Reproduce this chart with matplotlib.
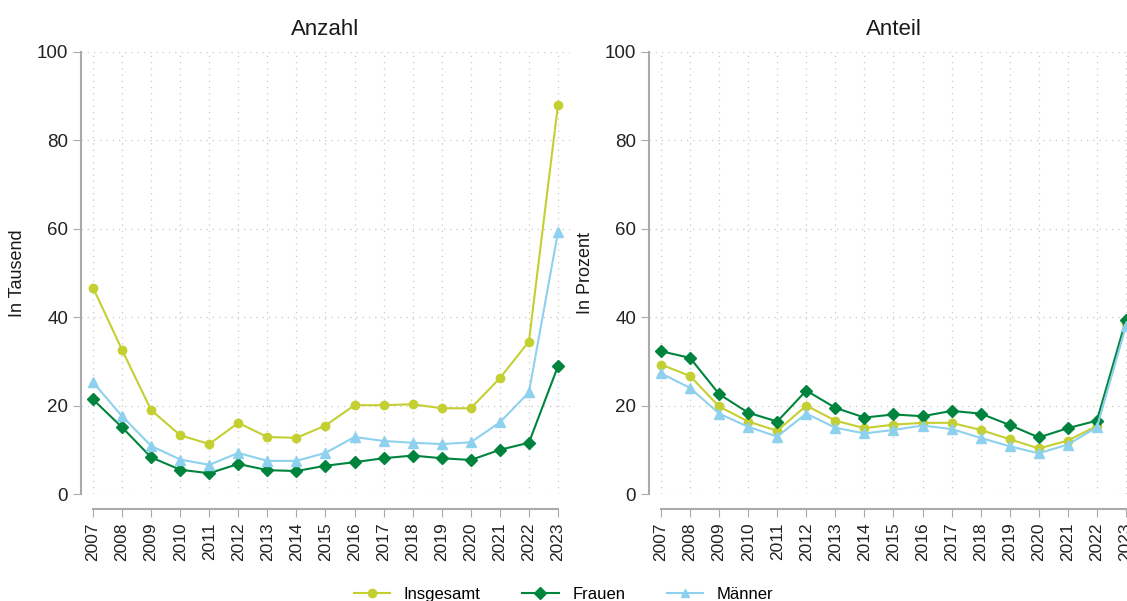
import matplotlib.pyplot as plt
from matplotlib.lines import Line2D

plt.rcParams['font.family'] = ['Liberation Sans', 'DejaVu Sans']

# === Data ===
years = list(range(2007, 2024))

anzahl_insgesamt = [46.7, 32.6, 19.0, 13.3, 11.3, 16.1, 12.9, 12.7, 15.5, 20.1,
                    20.1, 20.3, 19.4, 19.4, 26.2, 34.5, 88.0]
anzahl_frauen = [21.4, 15.1, 8.3, 5.5, 4.7, 6.8, 5.4, 5.2, 6.4, 7.2,
                 8.1, 8.7, 8.1, 7.7, 10.0, 11.6, 28.9]
anzahl_maenner = [25.3, 17.6, 10.9, 7.8, 6.6, 9.3, 7.5, 7.5, 9.3, 12.9,
                  12.0, 11.6, 11.3, 11.7, 16.2, 23.0, 59.2]

anteil_insgesamt = [29.3, 26.7, 19.8, 16.4, 14.3, 20.0, 16.6, 14.9, 15.7, 16.1,
                    16.1, 14.5, 12.4, 10.3, 12.1, 15.4, 38.6]
anteil_frauen = [32.3, 30.8, 22.6, 18.4, 16.4, 23.4, 19.5, 17.3, 18.0, 17.6,
                 18.8, 18.2, 15.6, 12.8, 14.9, 16.6, 39.4]
anteil_maenner = [27.3, 24.0, 18.2, 15.2, 13.0, 18.2, 15.0, 13.7, 14.5, 15.5,
                  14.7, 12.7, 10.8, 9.2, 11.2, 15.1, 38.0]

labels = ["Insgesamt", "Frauen", "Männer"]
colors = ["#C4CF32", "#00843D", "#8ED1EE"]
markers = ["o", "D", "^"]
msizes = [6, 6, 6.5]

panels = [
    ("Anzahl", "In Tausend", [anzahl_insgesamt, anzahl_frauen, anzahl_maenner]),
    ("Anteil", "In Prozent", [anteil_insgesamt, anteil_frauen, anteil_maenner]),
]

fig = plt.figure(figsize=(11.27, 6.01), dpi=100)
axes_pos = [[0.0722, 0.178, 0.4332, 0.7355], [0.5762, 0.178, 0.4332, 0.7355]]

for pos, (title, ylabel, series) in zip(axes_pos, panels):
    ax = fig.add_axes(pos)
    for vals, lab, col, mk, ms in zip(series, labels, colors, markers, msizes):
        ax.plot(years, vals, color=col, marker=mk, markersize=ms, linewidth=1.5,
                label=lab, clip_on=False, zorder=3)

    # spines first (set_position resets the tick labels)
    for s in ['top', 'right']:
        ax.spines[s].set_visible(False)
    ax.spines['bottom'].set_position(('outward', 11))
    ax.spines['left'].set_color('#aaaaaa')
    ax.spines['left'].set_linewidth(1.5)
    ax.spines['left'].set_bounds(0, 100)
    ax.spines['bottom'].set_color('#aaaaaa')
    ax.spines['bottom'].set_linewidth(1.5)
    ax.spines['bottom'].set_bounds(2007, 2023)

    ax.set_xlim(2006.6, 2023.4)
    ax.set_ylim(0, 100)
    ax.set_xticks(years)
    ax.set_xticklabels([str(y) for y in years], rotation=90, fontsize=12.5)
    ax.set_yticks(range(0, 101, 20))
    ax.tick_params(axis='y', labelsize=13.5, labelcolor='#222222', length=6, color='#aaaaaa')
    ax.tick_params(axis='x', labelcolor='#222222', length=6, color='#aaaaaa')
    ax.grid(True, linestyle=(0, (1, 4)), color='#c8c8c8', linewidth=0.9)
    ax.set_axisbelow(True)
    ax.set_title(title, fontsize=16, color='#1a1a1a', pad=12)
    ax.set_ylabel(ylabel, fontsize=13, color='#1a1a1a', labelpad=8)

handles = [Line2D([0], [0], color=c, marker=m, markersize=6, linewidth=1.5)
           for c, m in zip(colors, markers)]
fig.legend(handles, labels, loc='lower center', bbox_to_anchor=(0.5, -0.027), ncol=3,
           frameon=False, fontsize=12, columnspacing=2.5, handlelength=2.2)

fig.savefig("out.png", dpi=100)
